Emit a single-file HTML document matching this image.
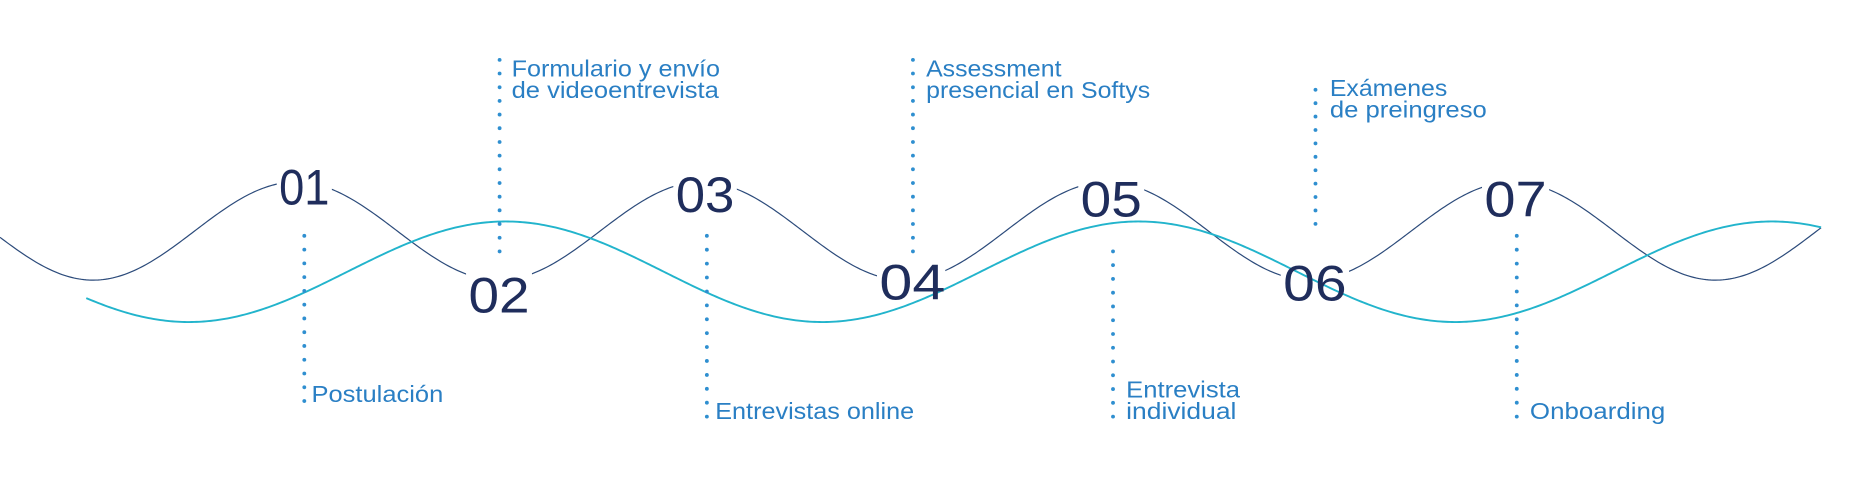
<!DOCTYPE html>
<html><head><meta charset="utf-8"><style>
html,body{margin:0;padding:0;background:#fff;}
svg{display:block;}
</style></head><body>
<svg width="1869" height="504" viewBox="0 0 1560 421" preserveAspectRatio="none" xmlns="http://www.w3.org/2000/svg">
<rect width="1560" height="421" fill="#fff"/>
<path id="dark" fill="none" stroke="#2b4a7a" stroke-width="1" d="" />
<g id="masks" fill="#fff">
<rect x="231" y="130" width="46" height="44"/>
<rect x="389" y="218" width="55" height="46"/>
<rect x="562" y="135" width="53" height="46"/>
<rect x="732" y="208" width="57" height="46"/>
<rect x="900" y="138" width="55" height="46"/>
<rect x="1069" y="210" width="57" height="46"/>
<rect x="1237" y="138" width="56" height="46"/>
</g>
<path id="teal" fill="none" stroke="#22b4cc" stroke-width="1.6" d=""/>
<g fill="#2f8fd0" id="dots"></g>
<g font-family="Liberation Sans, sans-serif" font-size="42" fill="#1f2d5c" lengthAdjust="spacingAndGlyphs">
<text x="233" y="171" textLength="42" lengthAdjust="spacingAndGlyphs">01</text>
<text x="391" y="261" textLength="51" lengthAdjust="spacingAndGlyphs">02</text>
<text x="564" y="177" textLength="49" lengthAdjust="spacingAndGlyphs">03</text>
<text x="734" y="250" textLength="55" lengthAdjust="spacingAndGlyphs">04</text>
<text x="902" y="181" textLength="51" lengthAdjust="spacingAndGlyphs">05</text>
<text x="1071" y="251" textLength="53" lengthAdjust="spacingAndGlyphs">06</text>
<text x="1239" y="181" textLength="52" lengthAdjust="spacingAndGlyphs">07</text>
</g>
<g font-family="Liberation Sans, sans-serif" font-size="19" fill="#2a7fc4">
<text x="260" y="336" textLength="110" lengthAdjust="spacingAndGlyphs">Postulación</text>
<text x="427" y="64" textLength="174" lengthAdjust="spacingAndGlyphs">Formulario y envío</text>
<text x="427" y="82" textLength="173" lengthAdjust="spacingAndGlyphs">de videoentrevista</text>
<text x="773" y="64" textLength="113" lengthAdjust="spacingAndGlyphs">Assessment</text>
<text x="773" y="82" textLength="187" lengthAdjust="spacingAndGlyphs">presencial en Softys</text>
<text x="1110" y="80" textLength="98" lengthAdjust="spacingAndGlyphs">Exámenes</text>
<text x="1110" y="98" textLength="131" lengthAdjust="spacingAndGlyphs">de preingreso</text>
<text x="597" y="350" textLength="166" lengthAdjust="spacingAndGlyphs">Entrevistas online</text>
<text x="940" y="332" textLength="95" lengthAdjust="spacingAndGlyphs">Entrevista</text>
<text x="940" y="350" textLength="92" lengthAdjust="spacingAndGlyphs">individual</text>
<text x="1277" y="350" textLength="113" lengthAdjust="spacingAndGlyphs">Onboarding</text>
</g>
<script>
function wave(x0,x1,c,a,ph,per){var d='';for(var x=x0;x<=x1;x+=2){var y=c-a*Math.cos(2*Math.PI*(x-ph)/per);d+=(x==x0?'M':'L')+x+' '+y.toFixed(2)+' ';}return d;}
document.getElementById('dark').setAttribute('d',wave(0,1520,193,41,247,338.5));
document.getElementById('teal').setAttribute('d',wave(72,1520,227,42,422,528.5));
var lines=[[254,197,335],[417,50,210],[590,197,348],[762,50,210],[929,210,348],[1098,75,187],[1266,197,348]];
var g=document.getElementById('dots');
lines.forEach(function(l){var n=Math.round((l[2]-l[1])/11.7);for(var i=0;i<=n;i++){var y=l[1]+(l[2]-l[1])*i/n;var c=document.createElementNS('http://www.w3.org/2000/svg','circle');c.setAttribute('cx',l[0]);c.setAttribute('cy',y.toFixed(1));c.setAttribute('r','1.6');g.appendChild(c);}});
</script>
</svg>
</body></html>
